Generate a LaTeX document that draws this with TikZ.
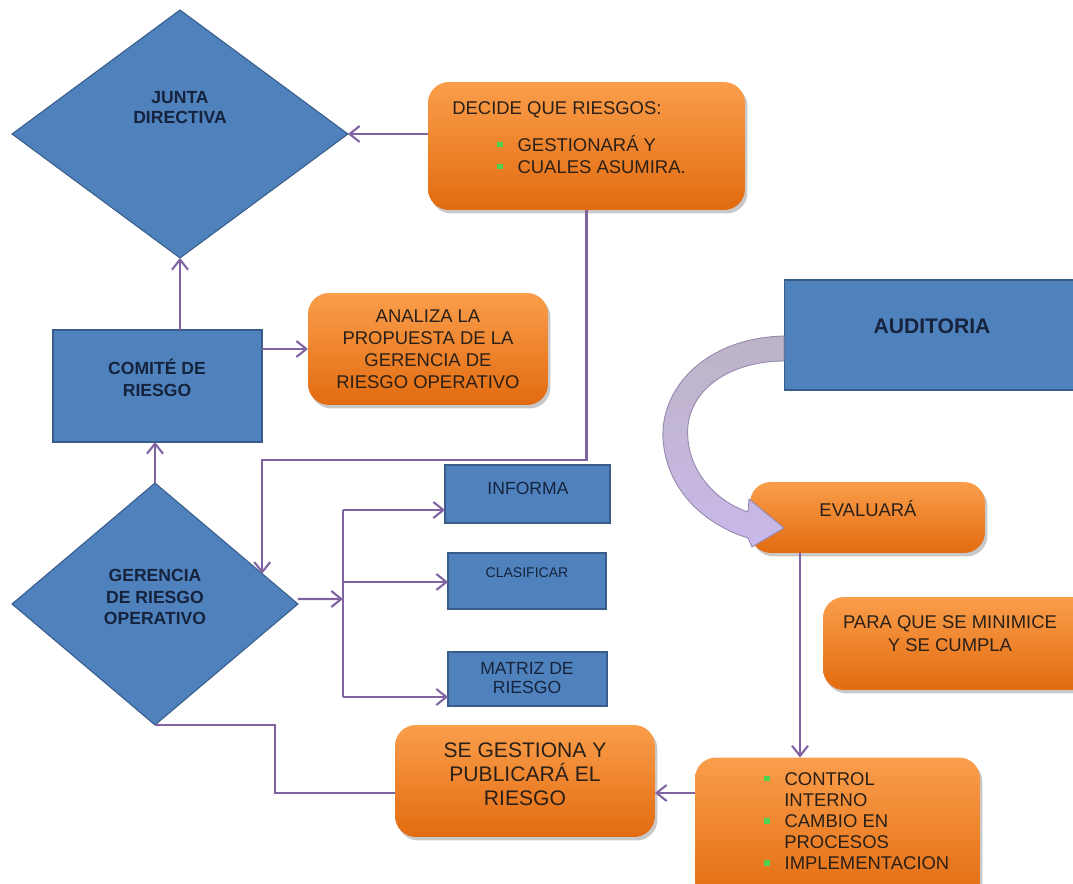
\documentclass[tikz,border=0pt]{standalone}
\usepackage{fontspec}
\setmainfont{Liberation Sans}
\usetikzlibrary{shapes.geometric,arrows.meta,calc,shadows}

\definecolor{bluefill}{HTML}{4F81BD}
\definecolor{blueline}{HTML}{385D8A}
\definecolor{orangetop}{HTML}{FA9E4B}
\definecolor{orangebot}{HTML}{E26B10}
\definecolor{flow}{HTML}{8064A2}
\definecolor{navy}{HTML}{15233D}
\definecolor{ink}{HTML}{2A2017}
\definecolor{bulgreen}{HTML}{4FD24F}
\definecolor{bandgray}{HTML}{BDB4C6}
\definecolor{bandlav}{HTML}{C9B8EA}
\definecolor{bandline}{HTML}{9488AE}

\newcommand{\grbullet}{\textcolor{bulgreen}{\rule[2.2pt]{3pt}{3pt}}}

\tikzset{
  blueshape/.style={fill=bluefill, draw=blueline, line width=0.6pt, outer sep=0pt, inner sep=0pt},
  bluetext/.style={text=navy, align=center, inner sep=0pt,
    font=\bfseries\fontsize{10}{12.3}\selectfont},
  blueplain/.style={text=navy, align=center, inner sep=0pt,
    font=\fontsize{10}{10.8}\selectfont},
  orangebox/.style={rounded corners=0.42cm, top color=orangetop, bottom color=orangebot,
    draw=none, outer sep=0pt, inner sep=0pt, text=ink, align=center,
    font=\fontsize{10.5}{12.6}\selectfont,
    drop shadow={shadow xshift=0.05cm, shadow yshift=-0.07cm, opacity=0.3, fill=black!70}},
  inktext/.style={text=ink, inner sep=0pt, font=\fontsize{10.5}{12.6}\selectfont},
  flowline/.style={draw=flow, line width=1.2pt},
  flowarrow/.style={flowline, -{Straight Barb[length=2mm,width=3.2mm,line width=1.2pt]}},
}

\begin{document}
\begin{tikzpicture}[x=0.02cm, y=-0.02cm]
\useasboundingbox (0,0) rectangle (1073,884);
\clip (0,0) rectangle (1073,884);
\fill[white] (0,0) rectangle (1073,884);

% --- left column: decision shapes and committee ---
\node[blueshape, diamond, minimum width=6.72cm, minimum height=4.96cm] (junta) at (180,134) {};
\node[bluetext, font=\bfseries\fontsize{10}{11.4}\selectfont] (juntaT) at (180,108) {JUNTA\\DIRECTIVA};

\node[blueshape, rectangle, minimum width=4.18cm, minimum height=2.24cm] (comite) at (157.5,386) {};
\node[bluetext, font=\bfseries\fontsize{10}{12.5}\selectfont] (comiteT) at (157,378) {COMITÉ DE\\RIESGO};

\node[blueshape, diamond, minimum width=5.72cm, minimum height=4.84cm] (gerencia) at (155,604) {};
\node[bluetext] (gerenciaT) at (155,597) {GERENCIA\\DE RIESGO\\OPERATIVO};

% --- orange notes ---
\node[orangebox, minimum width=6.34cm, minimum height=2.56cm] (decide) at (586.5,146) {};
\node[inktext, anchor=north west, align=left] (decideT) at (452,101)
  {DECIDE QUE RIESGOS:\\[8.4pt]
   \hspace*{0.9cm}\grbullet\hspace{0.3cm}GESTIONARÁ Y\\
   \hspace*{0.9cm}\grbullet\hspace{0.3cm}CUALES ASUMIRA.};

\node[orangebox, minimum width=4.8cm, minimum height=2.24cm] (analiza) at (428,349)
  {ANALIZA LA\\PROPUESTA DE LA\\GERENCIA DE\\RIESGO OPERATIVO};

% --- outputs of the risk management office ---
\node[blueshape, rectangle, minimum width=3.3cm, minimum height=1.16cm] (informa) at (527.5,494) {};
\node[blueplain] (informaT) at (528,488) {INFORMA};

\node[blueshape, rectangle, minimum width=3.16cm, minimum height=1.12cm] (clasif) at (527,581) {};
\node[blueplain, font=\fontsize{8}{9}\selectfont] (clasifT) at (527,573) {CLASIFICAR};

\node[blueshape, rectangle, minimum width=3.18cm, minimum height=1.08cm] (matriz) at (527.5,679) {};
\node[blueplain] (matrizT) at (527,678) {MATRIZ DE\\RIESGO};

% --- audit branch ---
\node[blueshape, rectangle, minimum width=5.9cm, minimum height=2.2cm] (audit) at (931.5,335) {};
\node[bluetext, font=\bfseries\fontsize{12}{14}\selectfont] (auditT) at (932,326) {AUDITORIA};

\node[orangebox, minimum width=4.7cm, minimum height=1.42cm] (evalua) at (867.5,517.5) {};
\node[inktext] (evaluaT) at (868,509) {EVALUARÁ};

\node[orangebox, minimum width=5.4cm, minimum height=1.86cm] (paraque) at (958,643.5) {};
\node[inktext, align=center, font=\fontsize{10.5}{13}\selectfont] (paraqueT) at (950,634)
  {PARA QUE SE MINIMICE\\Y SE CUMPLA};

\node[orangebox, minimum width=5.7cm, minimum height=2.9cm] (control) at (837.5,830) {};
\node[inktext, anchor=north west, align=left, font=\fontsize{10.5}{12}\selectfont] (controlT) at (764,772)
  {\grbullet\hspace{0.3cm}CONTROL\\
   \hspace*{0.4cm}INTERNO\\
   \grbullet\hspace{0.3cm}CAMBIO EN\\
   \hspace*{0.4cm}PROCESOS\\
   \grbullet\hspace{0.3cm}IMPLEMENTACION};

\node[orangebox, minimum width=5.2cm, minimum height=2.24cm, font=\fontsize{12}{13.6}\selectfont] (gestiona) at (525,781) {};
\node[inktext, align=center, font=\fontsize{12}{13.6}\selectfont] (gestionaT) at (525,774)
  {SE GESTIONA Y\\PUBLICARÁ EL\\RIESGO};

% --- connectors ---
\draw[flowarrow] (decide.west |- junta.east) -- (junta.east);
\draw[flowarrow] (comite.north -| junta.south) -- (junta.south);
\draw[flowarrow] (comite.east |- analiza.west) -- (analiza.west);
\draw[flowarrow] (gerencia.north) -- (gerencia.north |- comite.south);

\coordinate (gin) at ($(gerencia.north)!0.75!(gerencia.east)$);
\draw[flowarrow] (decide.south) |- ([yshift=2.28cm]gin) -- (gin);

\coordinate (split) at ($(gerencia.east)+(45,-5)$);
\draw[flowarrow] ([yshift=0.1cm]gerencia.east) -- (split);
\coordinate (bi) at (343,510);
\coordinate (bc) at (343,582);
\coordinate (bm) at (343,697);
\draw[flowline] (bi) -- (bm);
\draw[flowarrow] (bi) -- (bi -| informa.west);
\draw[flowarrow] (bc) -- (bc -| clasif.west);
\draw[flowarrow] (bm) -- (bm -| matriz.west);

\coordinate (ev) at ([xshift=-1.35cm]evalua.south);
\draw[flowarrow] (ev) -- (ev |- control.north);
\draw[flowarrow] ([yshift=-0.24cm]gestiona.east -| control.west) -- ([yshift=-0.24cm]gestiona.east);
\draw[flowline] ([yshift=-0.24cm]gestiona.west) -| ($(gerencia.south)+(120,0)$) -- (gerencia.south);

% curved block arrow from the audit box down to the evaluation
\draw[bandline, line width=0.5pt, top color=bandgray, bottom color=bandlav, line join=round]
  (audit.west |- 0,336)
    .. controls (700,338) and (655,395) .. (664,448)
    .. controls (672,500) and (715,528) .. (748,538)
  -- (752,547) -- (784,528) -- (749,499) -- (748,512)
    .. controls (712,500) and (684,465) .. (688,425)
    .. controls (693,385) and (735,361) .. (audit.west |- 0,361)
  -- cycle;
\end{tikzpicture}
\end{document}
